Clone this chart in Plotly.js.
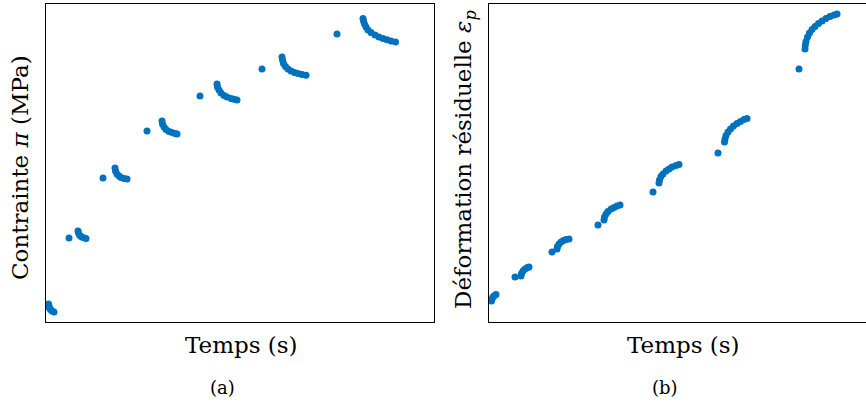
<!DOCTYPE html>
<html>
<head>
<meta charset="utf-8">
<script src="https://cdn.plot.ly/plotly-3.0.1.min.js"></script>
<style>html,body{margin:0;padding:0;background:#fff;}#chart{width:866px;height:405px;}</style>
</head>
<body>
<div id="chart"></div>
<script>
// (a) Contrainte vs temps (arbitrary units)
const timeA = [2.5,3,3.5,4.5,6,8,
  23,32,32.5,33.5,35,37,40,
  57,69,69.5,71,73,75,78,81,
  101,116,116.5,118,120,123,126,129,131,
  154,171,171.5,173,175,178,181,185,188,191,
  216,236,236.5,237.5,239.5,242,245,248.5,252,256,260,
  291,317,317.5,318.5,320,322,325,329,333,337,341,345,349.5];
const stressA = [18,16,14,12.5,11,10,
  84,91,89,87,85.5,84.5,83.5,
  144,154,151,148,146,144.5,143.5,143,
  191,201,198,195,192.5,190.5,189.5,188.5,188,
  226,238,235,232,229,226.5,225,223.5,222.7,222,
  253,265,262,258.5,255.5,253,251,249.5,248.5,247.5,246.7,
  288,303.5,301,298,295,292,289.5,287,285,283.5,282.2,281,280];

// (b) Déformation résiduelle vs temps
const timeB = [2.5,3,4,5.5,7,
  26,32,32.5,34,36,38.5,40,
  63,68,68.5,70,72,74.5,77,80,
  109,115,115.5,117,119,122,125,128,131,
  164,170,170.5,172,174,177,180,183,187,190,
  229,235.5,236,237,239,241.5,244.5,248,251.5,255,258,
  310,316,316.3,317,318.5,320.5,323,326,329.5,333,337,341,345,348];
const strainB = [21,23,25,26.5,27.5,
  45,46,48.5,51,53,54.5,55,
  70,73,75.5,78,80,81.5,82.5,83,
  97,102,105,108,110.5,113,114.5,116,117,
  130,139,142,145.5,148,151,153,155,156.5,157.5,
  169,180,183,186.5,190,193,196,198.5,200.5,202.5,203.5,
  253,273,277,280.5,285,289,292.5,295.5,298.5,301,303.5,305.5,307,308];

const xLabel = "Temps (s)";
const yLabelA = "Contrainte <i>π</i> (MPa)";
const yLabelB = "Déformation résiduelle <i>ε</i><sub><i>p</i></sub>";
const captions = ["(a)", "(b)"];

const blue = "#0072BD";
const font = "DejaVu Serif, serif";

const traces = [
  {x: timeA, y: stressA, xaxis: "x", yaxis: "y", type: "scatter", mode: "markers",
   marker: {color: blue, size: 7, line: {width: 0}}, cliponaxis: false, hoverinfo: "none"},
  {x: timeB, y: strainB, xaxis: "x2", yaxis: "y2", type: "scatter", mode: "markers",
   marker: {color: blue, size: 7, line: {width: 0}}, cliponaxis: false, hoverinfo: "none"}
];

const axBase = {showgrid: false, zeroline: false, showticklabels: false, ticks: "",
  showline: true, linecolor: "#000", linewidth: 1, fixedrange: true};

const layout = {
  width: 866, height: 405,
  margin: {l: 0, r: 0, t: 0, b: 0},
  paper_bgcolor: "#fff", plot_bgcolor: "#fff",
  showlegend: false,
  font: {family: font, color: "#000"},
  xaxis: Object.assign({}, axBase, {domain: [46/866, 434/866], range: [0, 388], mirror: true, anchor: "y"}),
  yaxis: Object.assign({}, axBase, {domain: [83/405, 401/405], range: [0, 318], mirror: true, anchor: "x"}),
  xaxis2: Object.assign({}, axBase, {domain: [489/866, 1], range: [0, 377], mirror: true, anchor: "y2"}),
  yaxis2: Object.assign({}, axBase, {domain: [83/405, 401/405], range: [0, 318], mirror: false, anchor: "x2"}),
  annotations: [
    {text: xLabel, xref: "paper", yref: "paper", x: 241/866, y: 1-345/405, xanchor: "center", yanchor: "middle", showarrow: false, font: {size: 23}},
    {text: xLabel, xref: "paper", yref: "paper", x: 683/866, y: 1-345/405, xanchor: "center", yanchor: "middle", showarrow: false, font: {size: 23}},
    {text: yLabelA, xref: "paper", yref: "paper", x: 20/866, y: 1-168/405, xanchor: "center", yanchor: "middle", textangle: -90, showarrow: false, font: {size: 23}},
    {text: yLabelB, xref: "paper", yref: "paper", x: 465/866, y: 1-160/405, xanchor: "center", yanchor: "middle", textangle: -90, showarrow: false, font: {size: 23}},
    {text: captions[0], xref: "paper", yref: "paper", x: 222/866, y: 1-387/405, xanchor: "center", yanchor: "middle", showarrow: false, font: {size: 18}},
    {text: captions[1], xref: "paper", yref: "paper", x: 665/866, y: 1-387/405, xanchor: "center", yanchor: "middle", showarrow: false, font: {size: 18}}
  ]
};

Plotly.newPlot("chart", traces, layout, {staticPlot: true, displayModeBar: false});
</script>
</body>
</html>
